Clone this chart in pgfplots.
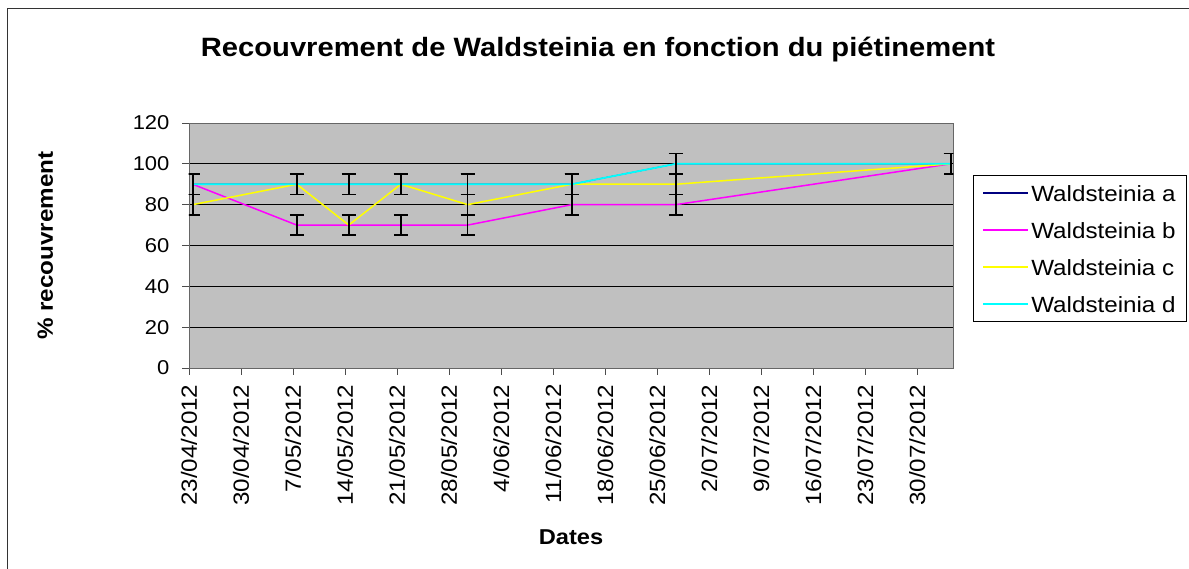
\documentclass[border=0pt]{standalone}
\usepackage{pgfplots}
\pgfplotsset{compat=1.18}
\usepackage{pgfplotstable}
\usepackage{fontspec}
\setmainfont{Liberation Sans}[FakeStretch=1.1]
\definecolor{plotbg}{HTML}{C0C0C0}
\definecolor{sa}{HTML}{000080}
\definecolor{sb}{HTML}{FF00FF}
\definecolor{sc}{HTML}{FFFF00}
\definecolor{sd}{HTML}{00FFFF}
\pgfplotstableread{
x     a    b    c    d    e
0.5   90   90   80   90   5
14.5  90   70   90   90   5
21.5  90   70   70   90   5
28.5  90   70   90   90   5
37.5  90   70   80   90   5
51.5  90   80   90   90   5
65.5  100  80   90   100  5
102.5 100  100  100  100  5
}\data
\begin{document}
\begin{tikzpicture}[x=1pt,y=1pt]
\useasboundingbox (0,0) rectangle (1189,569);
\draw[line width=1pt, black!80] (7,-5) -- (7,560) -- (1200,560);
\node[anchor=base, font=\fontsize{26.5}{30}\selectfont\bfseries] at (598,512) {Recouvrement de Waldsteinia en fonction du piétinement};
\begin{axis}[
  at={(189pt,201pt)}, anchor=south west,
  scale only axis, width=764pt, height=245pt,
  xmin=0, xmax=102.8, ymin=0, ymax=120,
  axis background/.style={fill=plotbg},
  axis line style={black!60, line width=0.8pt},
  xtick={0,7,...,98},
  xticklabels={23/04/2012,30/04/2012,7/05/2012,14/05/2012,21/05/2012,28/05/2012,4/06/2012,11/06/2012,18/06/2012,25/06/2012,2/07/2012,9/07/2012,16/07/2012,23/07/2012,30/07/2012},
  x tick label style={yshift=-6pt, rotate=90, anchor=east, font=\fontsize{22}{26}\selectfont},
  ytick={0,20,...,120},
  y tick label style={xshift=-9pt, font=\fontsize{20}{24}\selectfont},
  /pgf/number format/assume math mode=true,
  xtick pos=bottom, ytick pos=left,
  tick align=outside, major tick length=7pt,
  tick style={black!70, line width=0.8pt},
  ymajorgrids, grid style={black, line width=0.8pt},
  xlabel={Dates},
  xlabel style={font=\fontsize{21.5}{26}\selectfont\bfseries, at={(axis description cs:0.5,-0.69)}, anchor=center},
  ylabel={\% recouvrement},
  ylabel style={font=\fontsize{22}{26}\selectfont\bfseries, at={(axis description cs:-0.188,0.5)}, anchor=center},
  legend style={at={(axis description cs:1.026,0.786)}, anchor=north west, draw=black, line width=0.8pt, fill=white,
    font=\fontsize{22}{26}\selectfont, inner xsep=9pt, inner ysep=5pt, row sep=12pt,
    nodes={inner sep=2pt, text height=19pt, text depth=2pt}},
  legend cell align=left,
  legend image code/.code={\draw[#1, line width=2pt] (0pt,0pt) -- (45pt,0pt);},
  every axis plot/.append style={line width=1.5pt, mark=none},
  error bars/y dir=both, error bars/y explicit,
  error bars/error bar style={black, line width=1.6pt},
  error bars/error mark options={rotate=90, mark size=7pt, black, line width=1.6pt},
]
\addplot[color=sa, line width=1pt] table[x=x, y=a, y error=e]{\data};
\addlegendentry{Waldsteinia a}
\addplot[color=sb] table[x=x, y=b, y error=e]{\data};
\addlegendentry{Waldsteinia b}
\addplot[color=sc] table[x=x, y=c, y error=e]{\data};
\addlegendentry{Waldsteinia c}
\addplot[color=sd, line width=1.8pt] table[x=x, y=d, y error=e]{\data};
\addlegendentry{Waldsteinia d}
\end{axis}
\end{tikzpicture}
\end{document}
